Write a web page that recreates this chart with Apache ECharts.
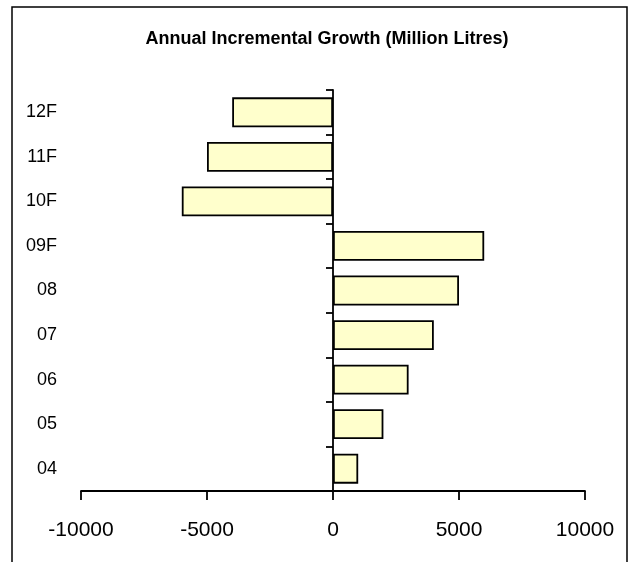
<!DOCTYPE html>
<html>
<head>
<meta charset="utf-8">
<script src="https://cdn.jsdelivr.net/npm/echarts@6/dist/echarts.min.js"></script>
<style>html,body{margin:0;padding:0;background:#fff}#c{width:638px;height:562px}</style>
</head>
<body>
<div id="c"></div>
<script>
const categories = ['04', '05', '06', '07', '08', '09F', '10F', '11F', '12F'];
const growth = [1000, 2000, 3000, 4000, 5000, 6000, -6000, -5000, -4000];
const xTicks = [-10000, -5000, 0, 5000, 10000];
const titleText = 'Annual Incremental Growth (Million Litres)';

const FONT = '"Liberation Sans", Arial, sans-serif';
const chart = echarts.init(document.getElementById('c'), null, {renderer: 'canvas'});
chart.setOption({
  animation: false,
  backgroundColor: '#fff',
  title: {
    text: titleText,
    left: 322, textAlign: 'center', top: 25,
    textStyle: {fontFamily: FONT, fontWeight: 'bold', fontSize: 18, color: '#000'}
  },
  graphic: [{
    type: 'rect', silent: true,
    shape: {x: 12, y: 7, width: 615, height: 620},
    style: {fill: 'none', stroke: '#000', lineWidth: 1.5}
  }],
  grid: {left: 81, right: 53, top: 90, bottom: 71, outerBoundsMode: 'none', containLabel: false},
  xAxis: {
    type: 'value', min: xTicks[0], max: xTicks[xTicks.length - 1], interval: 5000,
    splitLine: {show: false},
    axisLine: {show: true, onZero: false, lineStyle: {color: '#000', width: 1.8}},
    axisTick: {show: true, length: 9, lineStyle: {color: '#000', width: 1.8}},
    axisLabel: {margin: 29, fontFamily: FONT, fontSize: 21, color: '#000', formatter: v => String(v)}
  },
  yAxis: [{
    type: 'category', data: categories, position: 'left',
    axisLine: {show: false, onZero: false},
    axisTick: {show: false},
    splitLine: {show: false},
    axisLabel: {margin: 24, align: 'right', fontFamily: FONT, fontSize: 18, color: '#000'}
  }, {
    type: 'category', data: categories, position: 'left',
    axisLine: {show: true, onZero: true, lineStyle: {color: '#000', width: 1.8}},
    axisTick: {show: true, length: 7, lineStyle: {color: '#000', width: 1.8}},
    splitLine: {show: false},
    axisLabel: {show: false}
  }],
  series: [{
    type: 'bar', data: growth, barCategoryGap: '33%', yAxisIndex: 0,
    itemStyle: {color: '#FFFFCC', borderColor: '#000', borderWidth: 1.8}
  }]
});
</script>
</body>
</html>
